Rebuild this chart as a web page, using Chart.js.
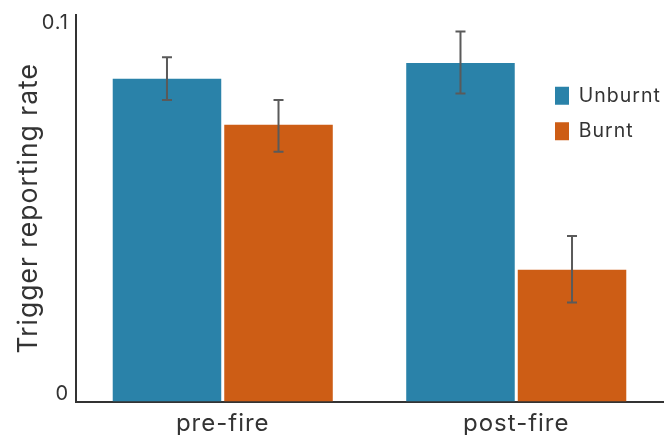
<!DOCTYPE html>
<html>
<head>
<meta charset="utf-8">
<script src="https://cdn.jsdelivr.net/npm/chart.js@4.4.1/dist/chart.umd.min.js"></script>
<style>
  html, body { margin: 0; padding: 0; background: #ffffff; }
  #wrap { width: 666px; height: 435px; position: relative; }
</style>
</head>
<body>
<div id="wrap"><canvas id="chart"></canvas></div>
<script>
// Trigger reporting rate before and after fire, unburnt vs burnt sites
const periods = ['pre-fire', 'post-fire'];
const seriesNames = ['Unburnt', 'Burnt'];
const unburntRate = [0.0835, 0.0876];
const burntRate = [0.0716, 0.0341];
// error bar extents (lower / upper)
const unburntLow = [0.0780, 0.0797];
const unburntHigh = [0.0891, 0.0957];
const burntLow = [0.0646, 0.0256];
const burntHigh = [0.0780, 0.0428];
const yTickValues = [0, 0.1];
const yTickLabels = ['0', '0.1'];

const BLUE = '#2a82a9';
const ORANGE = '#cd5d15';
const INK = '#333333';
const FONT = 'Inter, "DejaVu Sans", sans-serif';

// slightly open tracking for all chart text
const tracking = {
  id: 'tracking',
  beforeUpdate(chart) { chart.ctx.letterSpacing = '1px'; },
  beforeDraw(chart) { chart.ctx.letterSpacing = '1px'; }
};

// vertical whiskers with caps, drawn from each dataset's low/high arrays
const errorBars = {
  id: 'errorBars',
  afterDatasetsDraw(chart) {
    const ctx = chart.ctx;
    const y = chart.scales.y;
    chart.data.datasets.forEach((ds, d) => {
      const meta = chart.getDatasetMeta(d);
      meta.data.forEach((bar, i) => {
        const top = y.getPixelForValue(ds.errHigh[i]);
        const bottom = y.getPixelForValue(ds.errLow[i]);
        const cap = 5;
        ctx.save();
        ctx.strokeStyle = '#5a5a5a';
        ctx.lineWidth = 2;
        ctx.beginPath();
        ctx.moveTo(bar.x, top); ctx.lineTo(bar.x, bottom);
        ctx.moveTo(bar.x - cap, top); ctx.lineTo(bar.x + cap, top);
        ctx.moveTo(bar.x - cap, bottom); ctx.lineTo(bar.x + cap, bottom);
        ctx.stroke();
        ctx.restore();
      });
    });
  }
};

// place the legend inside the plot, upper right
const legendPlacement = {
  id: 'legendPlacement',
  afterLayout(chart) {
    const lg = chart.legend;
    const a = chart.chartArea;
    if (!lg) return;
    const w = lg.width, h = lg.height;
    lg.left = a.right - 124;
    lg.right = lg.left + w;
    lg.top = a.top + 55;
    lg.bottom = lg.top + h;
  }
};

new Chart(document.getElementById('chart'), {
  type: 'bar',
  data: {
    labels: periods,
    datasets: [
      {
        label: seriesNames[0],
        data: unburntRate,
        errLow: unburntLow,
        errHigh: unburntHigh,
        backgroundColor: BLUE,
        borderWidth: 0
      },
      {
        label: seriesNames[1],
        data: burntRate,
        errLow: burntLow,
        errHigh: burntHigh,
        backgroundColor: ORANGE,
        borderWidth: 0
      }
    ]
  },
  options: {
    responsive: true,
    maintainAspectRatio: false,
    animation: false,
    events: [],
    categoryPercentage: 0.76,
    barPercentage: 0.973,
    layout: { padding: { top: 15, right: 3, left: 0, bottom: 0 } },
    plugins: {
      tooltip: { enabled: false },
      legend: {
        position: 'chartArea',
        align: 'start',
        labels: {
          boxWidth: 14,
          boxHeight: 18,
          padding: 16,
          color: INK,
          font: { family: FONT, size: 19.5 }
        }
      }
    },
    scales: {
      x: {
        grid: { display: false, drawTicks: false },
        border: { display: true, color: INK, width: 2 },
        ticks: {
          color: INK,
          padding: 8,
          font: { family: FONT, size: 24 }
        },
        afterFit(scale) {
          scale.height = 33.5;
          scale.paddingLeft = 0;
          scale.paddingRight = 0;
        }
      },
      y: {
        min: 0,
        max: 0.1,
        grid: { display: false, drawTicks: false },
        border: { display: true, color: INK, width: 2 },
        afterBuildTicks(scale) {
          scale.ticks = yTickValues.map(v => ({ value: v }));
        },
        ticks: {
          color: INK,
          padding: 7,
          font: { family: FONT, size: 20, lineHeight: '15px' },
          // bottom label sits above the axis end, top label below it
          callback(value, index) {
            const label = yTickLabels[yTickValues.indexOf(value)];
            return index === 0 ? [label, ''] : ['', label];
          }
        },
        title: {
          display: true,
          text: 'Trigger reporting rate',
          color: INK,
          padding: { top: 13, bottom: 0 },
          font: { family: FONT, size: 26.5, weight: 'normal' }
        },
        afterFit(scale) {
          scale.width = 76;
          scale.paddingTop = 0;
          scale.paddingBottom = 0;
        }
      }
    }
  },
  plugins: [tracking, errorBars, legendPlacement]
});
</script>
</body>
</html>
